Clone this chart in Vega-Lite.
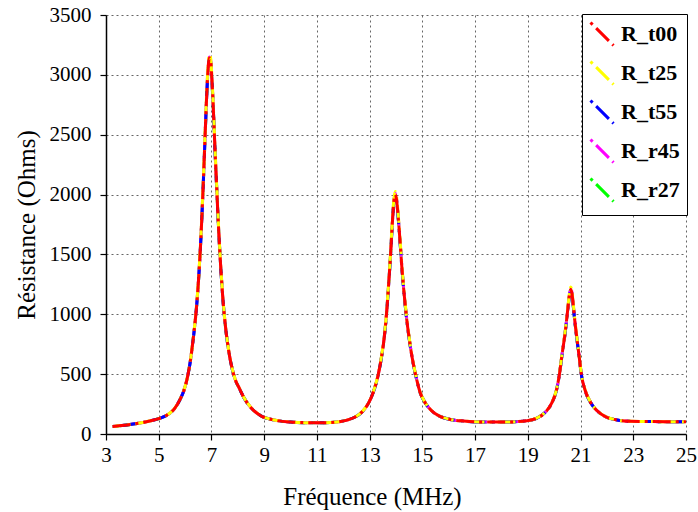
{
  "$schema": "https://vega.github.io/schema/vega-lite/v6.json",
  "width": 580,
  "height": 419,
  "autosize": "none",
  "padding": {"left": 106, "top": 15, "right": 12, "bottom": 78},
  "background": "white",
  "config": {
    "view": {"stroke": null},
    "font": "Liberation Serif",
    "axis": {
      "grid": true,
      "gridColor": "#666666",
      "gridDash": [2, 3],
      "gridWidth": 1,
      "domainColor": "black",
      "domainWidth": 1.5,
      "tickColor": "black",
      "tickSize": 6,
      "tickWidth": 1.2,
      "labelFont": "Liberation Serif",
      "labelFontSize": 21,
      "labelColor": "black",
      "titleFont": "Liberation Serif",
      "titleFontWeight": "normal",
      "titleColor": "black"
    },
    "legend": {
      "orient": "none",
      "legendX": 476,
      "legendY": -1,
      "fillColor": "white",
      "strokeColor": "black",
      "padding": 7,
      "symbolType": "M-1,-1L1,1",
      "symbolSize": 529,
      "symbolStrokeWidth": 3,
      "symbolDash": [3, 5, 18, 5],
      "symbolFillColor": "transparent",
      "labelFont": "Liberation Serif",
      "labelFontWeight": "bold",
      "labelFontSize": 22,
      "labelColor": "black",
      "labelOffset": 6,
      "rowPadding": 3
    }
  },
  "datasets": {
    "t00": [
      {"f":3.25,"r":62},{"f":3.5,"r":68},{"f":3.8,"r":76},{"f":4.1,"r":85},{"f":4.4,"r":96},{"f":4.7,"r":111},{"f":5.0,"r":128},{"f":5.2,"r":145},{"f":5.4,"r":170},{"f":5.6,"r":212},{"f":5.8,"r":285},{"f":5.95,"r":360},{"f":6.08,"r":465},{"f":6.2,"r":610},{"f":6.3,"r":780},{"f":6.4,"r":980},{"f":6.48,"r":1190},{"f":6.56,"r":1470},{"f":6.63,"r":1780},{"f":6.7,"r":2150},{"f":6.76,"r":2500},{"f":6.82,"r":2830},{"f":6.87,"r":3040},{"f":6.92,"r":3140},{"f":6.96,"r":3130},{"f":7.01,"r":2990},{"f":7.07,"r":2720},{"f":7.13,"r":2400},{"f":7.2,"r":2050},{"f":7.27,"r":1720},{"f":7.35,"r":1400},{"f":7.44,"r":1110},{"f":7.54,"r":880},{"f":7.65,"r":700},{"f":7.77,"r":560},{"f":7.9,"r":455},{"f":8.05,"r":385},{"f":8.24,"r":300},{"f":8.49,"r":222},{"f":8.87,"r":153},{"f":9.38,"r":117},{"f":10.0,"r":100},{"f":10.5,"r":95},{"f":11.0,"r":94},{"f":11.5,"r":96},{"f":11.9,"r":105},{"f":12.2,"r":120},{"f":12.45,"r":142},{"f":12.65,"r":172},{"f":12.85,"r":220},{"f":13.05,"r":300},{"f":13.2,"r":390},{"f":13.32,"r":490},{"f":13.44,"r":630},{"f":13.55,"r":800},{"f":13.65,"r":1030},{"f":13.73,"r":1280},{"f":13.8,"r":1520},{"f":13.86,"r":1760},{"f":13.92,"r":1940},{"f":13.97,"r":2000},{"f":14.02,"r":1960},{"f":14.08,"r":1820},{"f":14.15,"r":1620},{"f":14.22,"r":1400},{"f":14.3,"r":1190},{"f":14.39,"r":990},{"f":14.48,"r":830},{"f":14.58,"r":680},{"f":14.68,"r":560},{"f":14.79,"r":450},{"f":14.91,"r":350},{"f":15.1,"r":264},{"f":15.35,"r":194},{"f":15.67,"r":147},{"f":16.12,"r":119},{"f":16.56,"r":108},{"f":17.2,"r":100},{"f":18.2,"r":100},{"f":18.97,"r":111},{"f":19.35,"r":133},{"f":19.66,"r":181},{"f":19.92,"r":264},{"f":20.08,"r":361},{"f":20.2,"r":500},{"f":20.3,"r":667},{"f":20.4,"r":820},{"f":20.47,"r":950},{"f":20.53,"r":1070},{"f":20.58,"r":1160},{"f":20.63,"r":1210},{"f":20.68,"r":1165},{"f":20.73,"r":1060},{"f":20.79,"r":930},{"f":20.86,"r":800},{"f":20.94,"r":660},{"f":21.03,"r":500},{"f":21.18,"r":361},{"f":21.38,"r":264},{"f":21.63,"r":194},{"f":21.95,"r":144},{"f":22.39,"r":117},{"f":22.9,"r":106},{"f":23.5,"r":104},{"f":24.2,"r":103},{"f":25.0,"r":103}
    ],
    "t25": [
      {"f":3.25,"r":62},{"f":3.5,"r":68},{"f":3.8,"r":76},{"f":4.1,"r":85},{"f":4.4,"r":96},{"f":4.7,"r":111},{"f":5.0,"r":128},{"f":5.2,"r":145},{"f":5.4,"r":171},{"f":5.6,"r":213},{"f":5.8,"r":287},{"f":5.95,"r":362},{"f":6.08,"r":468},{"f":6.2,"r":614},{"f":6.3,"r":785},{"f":6.4,"r":988},{"f":6.48,"r":1200},{"f":6.56,"r":1482},{"f":6.63,"r":1795},{"f":6.7,"r":2170},{"f":6.76,"r":2525},{"f":6.82,"r":2860},{"f":6.87,"r":3065},{"f":6.92,"r":3170},{"f":6.96,"r":3155},{"f":7.01,"r":3015},{"f":7.07,"r":2740},{"f":7.13,"r":2420},{"f":7.2,"r":2065},{"f":7.27,"r":1732},{"f":7.35,"r":1410},{"f":7.44,"r":1118},{"f":7.54,"r":886},{"f":7.65,"r":705},{"f":7.77,"r":563},{"f":7.9,"r":457},{"f":8.05,"r":387},{"f":8.24,"r":301},{"f":8.49,"r":223},{"f":8.87,"r":153},{"f":9.38,"r":117},{"f":10.0,"r":100},{"f":10.5,"r":95},{"f":11.0,"r":94},{"f":11.5,"r":96},{"f":11.9,"r":105},{"f":12.2,"r":120},{"f":12.45,"r":143},{"f":12.65,"r":173},{"f":12.85,"r":222},{"f":13.05,"r":303},{"f":13.2,"r":394},{"f":13.32,"r":495},{"f":13.44,"r":637},{"f":13.55,"r":810},{"f":13.65,"r":1042},{"f":13.73,"r":1295},{"f":13.8,"r":1538},{"f":13.86,"r":1782},{"f":13.92,"r":1962},{"f":13.97,"r":2025},{"f":14.02,"r":1985},{"f":14.08,"r":1842},{"f":14.15,"r":1640},{"f":14.22,"r":1417},{"f":14.3,"r":1204},{"f":14.39,"r":1001},{"f":14.48,"r":839},{"f":14.58,"r":687},{"f":14.68,"r":565},{"f":14.79,"r":454},{"f":14.91,"r":353},{"f":15.1,"r":266},{"f":15.35,"r":195},{"f":15.67,"r":148},{"f":16.12,"r":119},{"f":16.56,"r":108},{"f":17.2,"r":100},{"f":18.2,"r":100},{"f":18.97,"r":111},{"f":19.35,"r":134},{"f":19.66,"r":182},{"f":19.92,"r":266},{"f":20.08,"r":364},{"f":20.2,"r":505},{"f":20.3,"r":674},{"f":20.4,"r":829},{"f":20.47,"r":961},{"f":20.53,"r":1083},{"f":20.58,"r":1175},{"f":20.63,"r":1228},{"f":20.68,"r":1181},{"f":20.73,"r":1073},{"f":20.79,"r":941},{"f":20.86,"r":809},{"f":20.94,"r":667},{"f":21.03,"r":505},{"f":21.18,"r":364},{"f":21.38,"r":266},{"f":21.63,"r":195},{"f":21.95,"r":145},{"f":22.39,"r":117},{"f":22.9,"r":106},{"f":23.5,"r":104},{"f":24.2,"r":103},{"f":25.0,"r":103}
    ],
    "t55": [
      {"f":3.25,"r":62},{"f":3.5,"r":68},{"f":3.8,"r":76},{"f":4.1,"r":85},{"f":4.4,"r":96},{"f":4.7,"r":111},{"f":5.0,"r":128},{"f":5.2,"r":145},{"f":5.4,"r":170},{"f":5.6,"r":211},{"f":5.8,"r":284},{"f":5.95,"r":359},{"f":6.08,"r":464},{"f":6.2,"r":608},{"f":6.3,"r":778},{"f":6.4,"r":977},{"f":6.48,"r":1186},{"f":6.56,"r":1465},{"f":6.63,"r":1773},{"f":6.7,"r":2142},{"f":6.76,"r":2490},{"f":6.82,"r":2820},{"f":6.87,"r":3030},{"f":6.92,"r":3130},{"f":6.96,"r":3120},{"f":7.01,"r":2980},{"f":7.07,"r":2712},{"f":7.13,"r":2392},{"f":7.2,"r":2044},{"f":7.27,"r":1715},{"f":7.35,"r":1396},{"f":7.44,"r":1107},{"f":7.54,"r":878},{"f":7.65,"r":698},{"f":7.77,"r":559},{"f":7.9,"r":454},{"f":8.05,"r":384},{"f":8.24,"r":299},{"f":8.49,"r":222},{"f":8.87,"r":153},{"f":9.38,"r":117},{"f":10.0,"r":100},{"f":10.5,"r":95},{"f":11.0,"r":94},{"f":11.5,"r":96},{"f":11.9,"r":105},{"f":12.2,"r":120},{"f":12.45,"r":142},{"f":12.65,"r":171},{"f":12.85,"r":219},{"f":13.05,"r":299},{"f":13.2,"r":388},{"f":13.32,"r":488},{"f":13.44,"r":627},{"f":13.55,"r":796},{"f":13.65,"r":1025},{"f":13.73,"r":1274},{"f":13.8,"r":1513},{"f":13.86,"r":1752},{"f":13.92,"r":1931},{"f":13.97,"r":1992},{"f":14.02,"r":1952},{"f":14.08,"r":1812},{"f":14.15,"r":1613},{"f":14.22,"r":1394},{"f":14.3,"r":1185},{"f":14.39,"r":986},{"f":14.48,"r":827},{"f":14.58,"r":678},{"f":14.68,"r":558},{"f":14.79,"r":449},{"f":14.91,"r":349},{"f":15.1,"r":263},{"f":15.35,"r":194},{"f":15.67,"r":147},{"f":16.12,"r":119},{"f":16.56,"r":108},{"f":17.2,"r":100},{"f":18.2,"r":100},{"f":18.97,"r":111},{"f":19.35,"r":133},{"f":19.66,"r":180},{"f":19.92,"r":263},{"f":20.08,"r":359},{"f":20.2,"r":497},{"f":20.3,"r":663},{"f":20.4,"r":815},{"f":20.47,"r":944},{"f":20.53,"r":1063},{"f":20.58,"r":1152},{"f":20.63,"r":1202},{"f":20.68,"r":1157},{"f":20.73,"r":1053},{"f":20.79,"r":924},{"f":20.86,"r":795},{"f":20.94,"r":656},{"f":21.03,"r":497},{"f":21.18,"r":359},{"f":21.38,"r":263},{"f":21.63,"r":194},{"f":21.95,"r":144},{"f":22.39,"r":117},{"f":22.9,"r":106},{"f":23.5,"r":104},{"f":24.2,"r":103},{"f":25.0,"r":103}
    ],
    "r45": [
      {"f":3.25,"r":62},{"f":3.5,"r":68},{"f":3.8,"r":76},{"f":4.1,"r":85},{"f":4.4,"r":96},{"f":4.7,"r":111},{"f":5.0,"r":128},{"f":5.2,"r":145},{"f":5.4,"r":170},{"f":5.6,"r":212},{"f":5.8,"r":286},{"f":5.95,"r":361},{"f":6.08,"r":466},{"f":6.2,"r":611},{"f":6.3,"r":782},{"f":6.4,"r":983},{"f":6.48,"r":1194},{"f":6.56,"r":1475},{"f":6.63,"r":1786},{"f":6.7,"r":2158},{"f":6.76,"r":2510},{"f":6.82,"r":2842},{"f":6.87,"r":3050},{"f":6.92,"r":3150},{"f":6.96,"r":3138},{"f":7.01,"r":2998},{"f":7.07,"r":2727},{"f":7.13,"r":2406},{"f":7.2,"r":2055},{"f":7.27,"r":1724},{"f":7.35,"r":1403},{"f":7.44,"r":1113},{"f":7.54,"r":882},{"f":7.65,"r":701},{"f":7.77,"r":561},{"f":7.9,"r":456},{"f":8.05,"r":386},{"f":8.24,"r":300},{"f":8.49,"r":222},{"f":8.87,"r":153},{"f":9.38,"r":117},{"f":10.0,"r":100},{"f":10.5,"r":95},{"f":11.0,"r":94},{"f":11.5,"r":96},{"f":11.9,"r":105},{"f":12.2,"r":120},{"f":12.45,"r":142},{"f":12.65,"r":172},{"f":12.85,"r":221},{"f":13.05,"r":301},{"f":13.2,"r":391},{"f":13.32,"r":492},{"f":13.44,"r":632},{"f":13.55,"r":803},{"f":13.65,"r":1034},{"f":13.73,"r":1285},{"f":13.8,"r":1526},{"f":13.86,"r":1767},{"f":13.92,"r":1947},{"f":13.97,"r":2008},{"f":14.02,"r":1968},{"f":14.08,"r":1827},{"f":14.15,"r":1626},{"f":14.22,"r":1405},{"f":14.3,"r":1194},{"f":14.39,"r":994},{"f":14.48,"r":833},{"f":14.58,"r":682},{"f":14.68,"r":562},{"f":14.79,"r":451},{"f":14.91,"r":351},{"f":15.1,"r":265},{"f":15.35,"r":194},{"f":15.67,"r":147},{"f":16.12,"r":119},{"f":16.56,"r":108},{"f":17.2,"r":100},{"f":18.2,"r":100},{"f":18.97,"r":111},{"f":19.35,"r":133},{"f":19.66,"r":181},{"f":19.92,"r":265},{"f":20.08,"r":362},{"f":20.2,"r":502},{"f":20.3,"r":670},{"f":20.4,"r":824},{"f":20.47,"r":955},{"f":20.53,"r":1076},{"f":20.58,"r":1167},{"f":20.63,"r":1216},{"f":20.68,"r":1171},{"f":20.73,"r":1066},{"f":20.79,"r":935},{"f":20.86,"r":804},{"f":20.94,"r":663},{"f":21.03,"r":502},{"f":21.18,"r":362},{"f":21.38,"r":265},{"f":21.63,"r":194},{"f":21.95,"r":144},{"f":22.39,"r":117},{"f":22.9,"r":106},{"f":23.5,"r":104},{"f":24.2,"r":103},{"f":25.0,"r":103}
    ],
    "r27": [
      {"f":3.25,"r":62},{"f":3.5,"r":68},{"f":3.8,"r":76},{"f":4.1,"r":85},{"f":4.4,"r":96},{"f":4.7,"r":111},{"f":5.0,"r":128},{"f":5.2,"r":145},{"f":5.4,"r":170},{"f":5.6,"r":212},{"f":5.8,"r":285},{"f":5.95,"r":360},{"f":6.08,"r":465},{"f":6.2,"r":610},{"f":6.3,"r":779},{"f":6.4,"r":979},{"f":6.48,"r":1188},{"f":6.56,"r":1468},{"f":6.63,"r":1777},{"f":6.7,"r":2146},{"f":6.76,"r":2496},{"f":6.82,"r":2826},{"f":6.87,"r":3036},{"f":6.92,"r":3136},{"f":6.96,"r":3126},{"f":7.01,"r":2986},{"f":7.07,"r":2716},{"f":7.13,"r":2396},{"f":7.2,"r":2047},{"f":7.27,"r":1718},{"f":7.35,"r":1398},{"f":7.44,"r":1109},{"f":7.54,"r":879},{"f":7.65,"r":699},{"f":7.77,"r":560},{"f":7.9,"r":455},{"f":8.05,"r":385},{"f":8.24,"r":300},{"f":8.49,"r":222},{"f":8.87,"r":153},{"f":9.38,"r":117},{"f":10.0,"r":100},{"f":10.5,"r":95},{"f":11.0,"r":94},{"f":11.5,"r":96},{"f":11.9,"r":105},{"f":12.2,"r":120},{"f":12.45,"r":142},{"f":12.65,"r":172},{"f":12.85,"r":220},{"f":13.05,"r":300},{"f":13.2,"r":389},{"f":13.32,"r":489},{"f":13.44,"r":629},{"f":13.55,"r":798},{"f":13.65,"r":1028},{"f":13.73,"r":1277},{"f":13.8,"r":1517},{"f":13.86,"r":1756},{"f":13.92,"r":1936},{"f":13.97,"r":1996},{"f":14.02,"r":1956},{"f":14.08,"r":1816},{"f":14.15,"r":1617},{"f":14.22,"r":1397},{"f":14.3,"r":1188},{"f":14.39,"r":988},{"f":14.48,"r":828},{"f":14.58,"r":679},{"f":14.68,"r":559},{"f":14.79,"r":449},{"f":14.91,"r":349},{"f":15.1,"r":264},{"f":15.35,"r":194},{"f":15.67,"r":147},{"f":16.12,"r":119},{"f":16.56,"r":108},{"f":17.2,"r":100},{"f":18.2,"r":100},{"f":18.97,"r":111},{"f":19.35,"r":133},{"f":19.66,"r":181},{"f":19.92,"r":264},{"f":20.08,"r":360},{"f":20.2,"r":499},{"f":20.3,"r":665},{"f":20.4,"r":818},{"f":20.47,"r":947},{"f":20.53,"r":1067},{"f":20.58,"r":1156},{"f":20.63,"r":1206},{"f":20.68,"r":1161},{"f":20.73,"r":1057},{"f":20.79,"r":927},{"f":20.86,"r":797},{"f":20.94,"r":658},{"f":21.03,"r":499},{"f":21.18,"r":360},{"f":21.38,"r":264},{"f":21.63,"r":194},{"f":21.95,"r":144},{"f":22.39,"r":117},{"f":22.9,"r":106},{"f":23.5,"r":104},{"f":24.2,"r":103},{"f":25.0,"r":103}
    ]
  },
  "encoding": {
    "x": {
      "field": "f",
      "type": "quantitative",
      "scale": {"domain": [3, 25], "nice": false, "zero": false},
      "axis": {
        "values": [3, 5, 7, 9, 11, 13, 15, 17, 19, 21, 23, 25],
        "format": "d",
        "title": "Fréquence (MHz)",
        "labelFont": "Liberation Serif",
        "titleFont": "Liberation Serif",
        "labelFontSize": 21,
        "titleFontSize": 25,
        "titleX": 266,
        "titlePadding": 19,
        "labelPadding": 4,
        "labelFlush": false
      }
    },
    "y": {
      "field": "r",
      "type": "quantitative",
      "scale": {"domain": [0, 3500], "nice": false},
      "axis": {
        "values": [0, 500, 1000, 1500, 2000, 2500, 3000, 3500],
        "format": "d",
        "title": "Résistance (Ohms)",
        "labelFont": "Liberation Serif",
        "titleFont": "Liberation Serif",
        "labelFontSize": 21,
        "titleFontSize": 25,
        "titlePadding": 10,
        "labelPadding": 9,
        "labelFlush": false
      }
    }
  },
  "layer": [
    {
      "data": {"name": "r27"},
      "mark": {"type": "line", "strokeWidth": 3, "strokeDash": [18, 5, 3, 5], "strokeDashOffset": 20, "interpolate": "monotone"},
      "encoding": {"color": {"datum": "R_r27", "type": "nominal", "scale": {"domain": ["R_t00", "R_t25", "R_t55", "R_r45", "R_r27"], "range": ["#ff0000", "#ffff00", "#0000ff", "#ff00ff", "#00ff00"]}, "legend": {"title": null}}}
    },
    {
      "data": {"name": "r45"},
      "mark": {"type": "line", "strokeWidth": 3, "strokeDash": [18, 5, 3, 5], "strokeDashOffset": 14, "interpolate": "monotone"},
      "encoding": {"color": {"datum": "R_r45", "type": "nominal"}}
    },
    {
      "data": {"name": "t55"},
      "mark": {"type": "line", "strokeWidth": 3, "strokeDash": [18, 5, 3, 5], "strokeDashOffset": 24, "interpolate": "monotone"},
      "encoding": {"color": {"datum": "R_t55", "type": "nominal"}}
    },
    {
      "data": {"name": "t25"},
      "mark": {"type": "line", "strokeWidth": 3, "strokeDash": [18, 5, 3, 5], "strokeDashOffset": 8, "interpolate": "monotone"},
      "encoding": {"color": {"datum": "R_t25", "type": "nominal"}}
    },
    {
      "data": {"name": "t00"},
      "mark": {"type": "line", "strokeWidth": 3, "strokeDash": [18, 5, 3, 5], "strokeDashOffset": 0, "interpolate": "monotone"},
      "encoding": {"color": {"datum": "R_t00", "type": "nominal"}}
    }
  ]
}
